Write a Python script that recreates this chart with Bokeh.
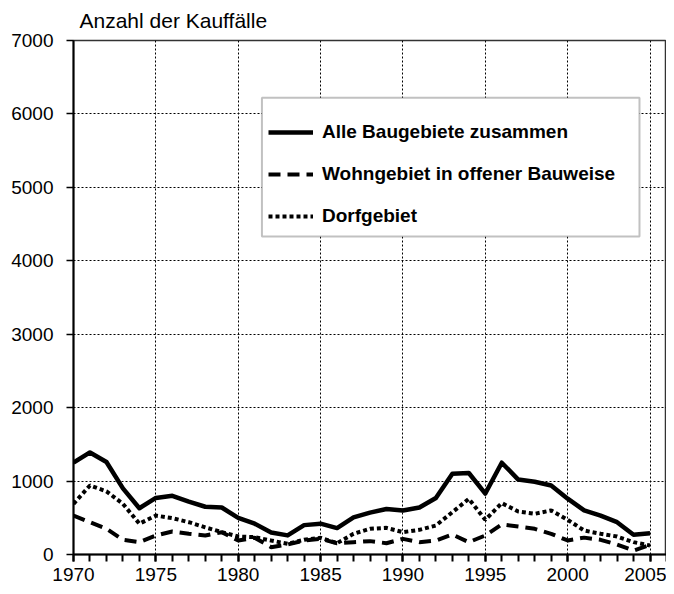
from bokeh.plotting import figure
from bokeh.models import Range1d, SingleIntervalTicker, Legend, LegendItem, BoxAnnotation
from bokeh.embed import file_html
from bokeh.resources import INLINE

years = list(range(1970, 2006))
alle = [1250, 1390, 1260, 900, 630, 770, 800, 720, 650, 640,
        500, 420, 300, 260, 400, 420, 360, 505, 570, 620,
        600, 640, 770, 1100, 1110, 830, 1250, 1020, 990, 940,
        760, 600, 530, 440, 270, 290]
wohn = [530, 440, 350, 200, 168, 259, 313, 282, 259, 304,
        191, 227, 100, 136, 191, 213, 154, 168, 182, 154,
        213, 168, 191, 272, 168, 259, 409, 381, 350, 282,
        191, 230, 200, 136, 54, 130]
dorf = [690, 940, 860, 690, 420, 530, 495, 440, 370, 305,
        245, 236, 190, 145, 200, 227, 155, 282, 350, 363,
        305, 336, 395, 576, 758, 472, 700, 585, 554, 600,
        472, 327, 282, 245, 168, 123]
labels = ["Alle Baugebiete zusammen", "Wohngebiet in offener Bauweise", "Dorfgebiet"]
y_title = "Anzahl der Kauffälle"

FONT = "Liberation Sans"

p = figure(width=666, height=586, x_range=Range1d(1970, 2006), y_range=Range1d(0, 7000),
           output_backend="svg", toolbar_location=None,
           min_border_left=73, min_border_right=0, min_border_top=40, min_border_bottom=32)

p.title.text = y_title
p.title.align = "left"
p.title.vertical_align = "top"
p.title.offset = 6
p.title.text_font = FONT
p.title.text_font_size = "21px"
p.title.text_font_style = "normal"
p.title.text_color = "black"
p.title.standoff = 13

xt = SingleIntervalTicker(interval=5, num_minor_ticks=5)
yt = SingleIntervalTicker(interval=1000, num_minor_ticks=0)
p.xaxis.ticker = xt
p.yaxis.ticker = yt
p.xgrid.ticker = xt
p.ygrid.ticker = yt

p.grid.grid_line_color = "black"
p.grid.grid_line_dash = "2 2"
p.grid.grid_line_width = 1

for ax in (p.xaxis[0], p.yaxis[0]):
    ax.axis_line_width = 2
    ax.axis_line_color = "black"
    ax.major_tick_in = 0
    ax.major_tick_out = 7
    ax.minor_tick_in = 0
    ax.major_tick_line_color = "black"
    ax.major_label_text_font = FONT
    ax.major_label_text_font_size = "19px"
    ax.major_label_text_color = "black"

p.xaxis.minor_tick_out = 7
p.xaxis.minor_tick_line_width = 2
p.xaxis.minor_tick_line_color = "black"
p.xaxis.major_tick_line_width = 2
p.xaxis.major_label_standoff = 6
p.yaxis.minor_tick_line_color = None
p.yaxis.major_tick_line_width = 1.5
p.yaxis.major_label_standoff = 13

p.outline_line_color = "#333333"
p.outline_line_width = 1.5
p.background_fill_color = "white"

r1 = p.line(years, alle, line_color="black", line_width=4.5, line_join="round")
r2 = p.line(years, wohn, line_color="black", line_width=4, line_dash="12 7")
r3 = p.line(years, dorf, line_color="black", line_width=4, line_dash="4 3")

box = BoxAnnotation(left=1981.44, right=2004.36, top=6220, bottom=4331,
                    fill_color="white", fill_alpha=1.0,
                    line_color="#333333", line_width=2)
p.add_layout(box)

legend = Legend(items=[LegendItem(label=labels[0], renderers=[r1]),
                       LegendItem(label=labels[1], renderers=[r2]),
                       LegendItem(label=labels[2], renderers=[r3])],
                location=(195, 317), padding=0, margin=0, spacing=0,
                glyph_width=45, glyph_height=42, label_height=42, label_standoff=9,
                label_text_font=FONT, label_text_font_style="bold",
                label_text_font_size="19px", label_text_color="black",
                border_line_alpha=0, background_fill_alpha=0)
p.add_layout(legend)

open("out.html", "w").write(file_html(p, INLINE))
